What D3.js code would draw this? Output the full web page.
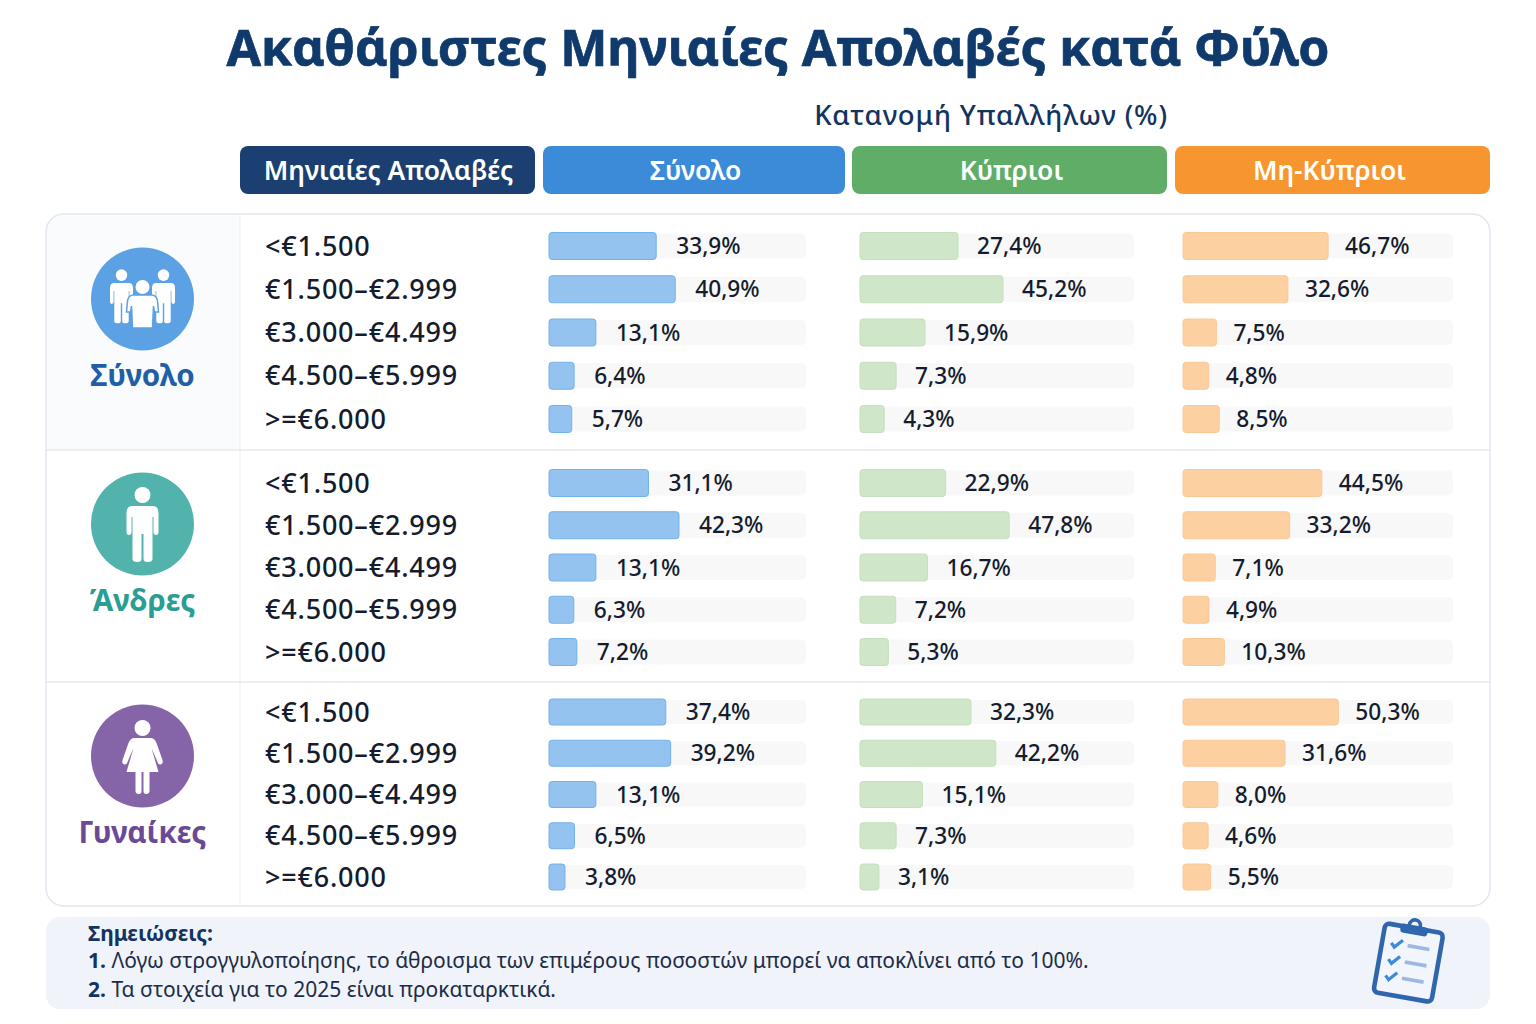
<!DOCTYPE html>
<html>
<head>
<meta charset="utf-8">
<script src="https://cdn.jsdelivr.net/npm/d3@7"></script>
<style>
  html, body { margin: 0; padding: 0; background: #fff; }
  svg { display: block; }
  text { font-family: "Noto Sans", sans-serif; }
</style>
</head>
<body>
<svg id="chart" width="1536" height="1024"></svg>
<script>
const bands = ["<€1.500", "€1.500–€2.999", "€3.000–€4.499", "€4.500–€5.999", ">=€6.000"];
const genders = ["Σύνολο", "Άνδρες", "Γυναίκες"];
const columns = ["Σύνολο", "Κύπριοι", "Μη-Κύπριοι"];

const totalAll = [33.9, 40.9, 13.1, 6.4, 5.7];
const totalCy = [27.4, 45.2, 15.9, 7.3, 4.3];
const totalNon = [46.7, 32.6, 7.5, 4.8, 8.5];
const menAll = [31.1, 42.3, 13.1, 6.3, 7.2];
const menCy = [22.9, 47.8, 16.7, 7.2, 5.3];
const menNon = [44.5, 33.2, 7.1, 4.9, 10.3];
const womenAll = [37.4, 39.2, 13.1, 6.5, 3.8];
const womenCy = [32.3, 42.2, 15.1, 7.3, 3.1];
const womenNon = [50.3, 31.6, 8.0, 4.6, 5.5];

const groupValues = [
    [totalAll, totalCy, totalNon],
    [menAll, menCy, menNon],
    [womenAll, womenCy, womenNon]
];

const fmt = v => d3.format(".1f")(v).replace(".", ",") + "%";
const svg = d3.select("#chart");

// per column layout, the bars in the picture are not quite proportional so each gets its own scale
const colLayout = [
    { x: 543, w: 302, track: [549, 806], min: 0, exp: 0.87, k: 5, gap: 20, dx: 1.5, fill: "#93c3ee", stroke: "#72b2ec", head: "#3c8bd9" },
    { x: 852, w: 315, track: [860, 1134], min: 0, exp: 0.755, k: 8.05, gap: 19, dx: 2, fill: "#cfe6c8", stroke: "#c4e0bd", head: "#60ad67" },
    { x: 1175, w: 315, track: [1183, 1453], min: 12, exp: 1, k: 2.85, gap: 17, dx: -3, fill: "#fdd0a2", stroke: "#fbc796", head: "#f7962f" }
];
colLayout.forEach(c => {
    const x0 = c.track[0] + c.min;
    c.scale = d3.scalePow().exponent(c.exp).domain([0, 100]).range([x0, x0 + c.k * Math.pow(100, c.exp)]);
});

const groupLayout = [
    { top: 214, bottom: 450, rows: [246, 419], barH: 27, cy: 299, labelY: 375, circle: "#5ba1e4", color: "#1f5fa8", icon: drawGroup },
    { top: 450, bottom: 682, rows: [483, 652], barH: 27, cy: 524, labelY: 600, circle: "#52b3ac", color: "#2a9d94", icon: drawMan },
    { top: 682, bottom: 906, rows: [712, 877], barH: 26, cy: 756, labelY: 832, circle: "#8565a8", color: "#6a4a96", icon: drawWoman }
];

// title
svg.append("text").attr("x", 778).attr("y", 66).attr("text-anchor", "middle")
    .style("font-size", "50px").style("font-weight", 700).attr("fill", "#0f3a6b")
    .attr("stroke", "#0f3a6b").attr("stroke-width", 0.7)
    .text("Ακαθάριστες Μηνιαίες Απολαβές κατά Φύλο");

svg.append("text").attr("x", 991).attr("y", 125).attr("text-anchor", "middle")
    .style("font-size", "27.5px").style("font-weight", 500).style("letter-spacing", "0.85px").attr("fill", "#12345e")
    .text("Κατανομή Υπαλλήλων (%)");

// header buttons
const headers = [{ x: 240, w: 295, dx: 1, head: "#1a3f70", label: "Μηνιαίες Απολαβές" }]
    .concat(colLayout.map((c, i) => ({ x: c.x, w: c.w, dx: c.dx, head: c.head, label: columns[i] })));

const headG = svg.selectAll(".head").data(headers).enter().append("g").attr("class", "head");
headG.append("rect").attr("x", d => d.x).attr("y", 146).attr("width", d => d.w).attr("height", 48)
    .attr("rx", 8).attr("fill", d => d.head);
headG.append("text").attr("x", d => d.x + d.w / 2 + d.dx).attr("y", 180).attr("text-anchor", "middle")
    .style("font-size", "26.4px").style("font-weight", 600).attr("fill", "#fff").text(d => d.label);

// table frame
const clipId = "table-clip";
svg.append("clipPath").attr("id", clipId).append("rect")
    .attr("x", 46).attr("y", 214).attr("width", 1444).attr("height", 692).attr("rx", 18);
svg.append("rect").attr("x", 46).attr("y", 214).attr("width", 194).attr("height", 236)
    .attr("fill", "#fafbfc").attr("clip-path", `url(#${clipId})`);
svg.append("line").attr("x1", 240).attr("x2", 240).attr("y1", 214).attr("y2", 906).attr("stroke", "#eceef3");
[450, 682].forEach(y => {
    svg.append("line").attr("x1", 46).attr("x2", 1490).attr("y1", y).attr("y2", y)
        .attr("stroke", "#e6e8ee").attr("stroke-width", 1.5);
});
svg.append("rect").attr("x", 46).attr("y", 214).attr("width", 1444).attr("height", 692).attr("rx", 18)
    .attr("fill", "none").attr("stroke", "#e2e6ee").attr("stroke-width", 1.5);

// groups
groupLayout.forEach((g, gi) => {
    const y = d3.scalePoint().domain(bands).range(g.rows);
    const group = svg.append("g").attr("class", "group");

    group.append("circle").attr("cx", 142.5).attr("cy", g.cy).attr("r", 51.5).attr("fill", g.circle);
    g.icon(group.append("g").attr("transform", `translate(142.5,${g.cy})`).attr("fill", "#fff"));
    group.append("text").attr("x", 142.5).attr("y", g.labelY + 11).attr("text-anchor", "middle")
        .style("font-size", "29.5px").style("font-weight", 700).attr("fill", g.color).text(genders[gi]);

    group.selectAll(".band").data(bands).enter().append("text")
        .attr("x", 265).attr("y", d => y(d)).attr("dy", "0.36em")
        .style("font-size", "27px").style("font-weight", 500).style("letter-spacing", "0.8px")
        .attr("fill", "#141c2e").text(d => d);

    colLayout.forEach((c, ci) => {
        const vals = groupValues[gi][ci];
        const cg = group.append("g");
        cg.selectAll(".track").data(bands).enter().append("rect")
            .attr("x", c.track[0]).attr("y", d => y(d) - (g.barH - 2) / 2)
            .attr("width", c.track[1] - c.track[0]).attr("height", g.barH - 2)
            .attr("rx", 5).attr("fill", "#f8f8f8");
        cg.selectAll(".bar").data(vals).enter().append("rect")
            .attr("x", c.track[0]).attr("y", (d, i) => y(bands[i]) - g.barH / 2)
            .attr("width", d => c.scale(d) - c.track[0]).attr("height", g.barH)
            .attr("rx", 3).attr("fill", c.fill).attr("stroke", c.stroke);
        cg.selectAll(".val").data(vals).enter().append("text")
            .attr("x", d => c.scale(d) + c.gap).attr("y", (d, i) => y(bands[i])).attr("dy", "0.36em")
            .style("font-size", "22.7px").style("font-weight", 500).attr("fill", "#141c2e").text(fmt);
    });
});

// icons, drawn around the circle centre
function person(sel, dx, dy, k) {
    const p = sel.append("g").attr("transform", `translate(${dx},${dy}) scale(${k})`);
    p.append("circle").attr("cx", 0).attr("cy", -29).attr("r", 8);
    p.append("path").attr("d", "M-10,-18 H10 Q16,-18 16,-11 V8 Q16,11 13.5,11 Q11,11 11,8 V-7 H10 V35 Q10,38 5,38 Q1,38 1,35 V10 H-1 V35 Q-1,38 -5,38 Q-10,38 -10,35 V-7 H-11 V8 Q-11,11 -13.5,11 Q-16,11 -16,8 V-11 Q-16,-18 -10,-18 Z");
}
function drawMan(sel) { person(sel, 0, 0, 1); }
function drawGroup(sel) {
    person(sel, -21, -3, 0.72);
    person(sel, 21, -3, 0.72);
    const p = sel.append("g");
    p.append("circle").attr("cx", 0).attr("cy", -12).attr("r", 7);
    p.append("path").attr("stroke", "#5ba1e4").attr("stroke-width", 1.5)
        .attr("d", "M-9,-4 H9 Q14,-4 15,2 L16,13 H12 L11,7 L10,29 H-10 L-11,7 L-12,13 H-16 L-15,2 Q-14,-4 -9,-4 Z");
}
function drawWoman(sel) {
    sel.append("circle").attr("cx", 0).attr("cy", -28).attr("r", 8);
    sel.append("path").attr("d", "M-8,-18 H8 Q12,-18 14,-13 L20,4 Q21,8 18,8.5 Q16,9 15,6 L9,-8 L16,16 H7 V35 Q7,38 3.5,38 Q1,38 1,35 V16 H-1 V35 Q-1,38 -3.5,38 Q-7,38 -7,35 V16 H-16 L-9,-8 L-15,6 Q-16,9 -18,8.5 Q-21,8 -20,4 L-14,-13 Q-12,-18 -8,-18 Z");
}

// notes
svg.append("rect").attr("x", 46).attr("y", 917).attr("width", 1444).attr("height", 92).attr("rx", 14).attr("fill", "#f0f3f9");
svg.append("text").attr("x", 88).attr("y", 941).style("font-size", "21px").style("font-weight", 700)
    .attr("fill", "#12345e").text("Σημειώσεις:");
const notes = [
    "Λόγω στρογγυλοποίησης, το άθροισμα των επιμέρους ποσοστών μπορεί να αποκλίνει από το 100%.",
    "Τα στοιχεία για το 2025 είναι προκαταρκτικά."
];
const noteY = d3.scalePoint().domain(notes).range([968, 997]);
const noteT = svg.selectAll(".note").data(notes).enter().append("text")
    .attr("x", 88).attr("y", d => noteY(d)).style("font-size", "21px").attr("fill", "#1c2c48");
noteT.append("tspan").style("font-weight", 700).attr("fill", "#12345e").text((d, i) => (i + 1) + ". ");
noteT.append("tspan").text(d => d);

// clipboard
const clip = svg.append("g").attr("transform", "translate(1409,959) rotate(10) scale(0.92)");
clip.append("rect").attr("x", -32).attr("y", -34).attr("width", 64).attr("height", 76).attr("rx", 5)
    .attr("fill", "#f2f5fb").attr("stroke", "#2f66ad").attr("stroke-width", 5);
clip.append("circle").attr("cx", 0).attr("cy", -37).attr("r", 6).attr("fill", "none").attr("stroke", "#2f66ad").attr("stroke-width", 4);
clip.append("rect").attr("x", -15).attr("y", -37).attr("width", 30).attr("height", 10).attr("rx", 4).attr("fill", "#2f66ad");
[-14, 4, 22].forEach(y => {
    clip.append("path").attr("d", `M-22,${y} l4,4 l8,-9`).attr("fill", "none").attr("stroke", "#3c8bd9").attr("stroke-width", 3.5);
    clip.append("line").attr("x1", -4).attr("x2", 20).attr("y1", y).attr("y2", y).attr("stroke", "#9db9e0").attr("stroke-width", 4);
});
</script>
</body>
</html>
